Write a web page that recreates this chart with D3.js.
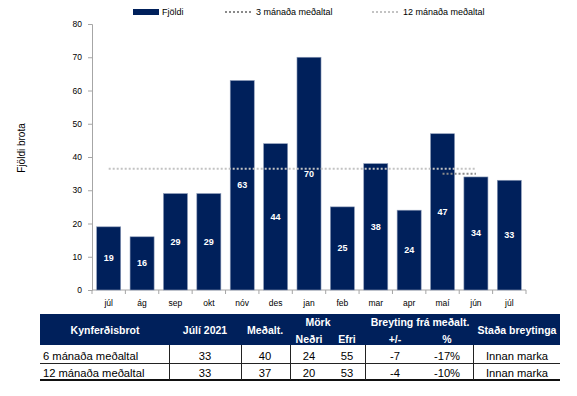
<!DOCTYPE html>
<html><head><meta charset="utf-8">
<script src="https://cdn.jsdelivr.net/npm/d3@7"></script>
<style>
html,body{margin:0;padding:0;background:#fff;}
svg{display:block;font-family:"Liberation Sans",Arial,sans-serif;}
</style></head>
<body><svg id="c" width="577" height="396"></svg>
<script>
const months = ["júl","ág","sep","okt","nóv","des","jan","feb","mar","apr","maí","jún","júl"];
const counts = [19,16,29,29,63,44,70,25,38,24,47,34,33];
const avg12 = [36.5,36.5,36.5,36.5,36.5,36.5,36.5,36.5,36.5,36.5,36.5,36.5,null];
const avg3 = [null,null,null,null,null,null,null,null,null,null,35,35,null];
const yTicks = [0,10,20,30,40,50,60,70,80];
const legendLabels = ["Fjöldi","3 mánaða meðaltal","12 mánaða meðaltal"];
const yTitle = "Fjöldi brota";

const tableRowLabels = ["6 mánaða meðaltal","12 mánaða meðaltal"];
const tableJuly = ["33","33"];
const tableAvg = ["40","37"];
const tableLow = ["24","20"];
const tableHigh = ["55","53"];
const tableDiff = ["-7","-4"];
const tablePct = ["-17%","-10%"];
const tableStatus = ["Innan marka","Innan marka"];

const navy = "#00205b";
const svg = d3.select("#c");
const idx = months.map((m,i)=>i);
const x = d3.scaleBand().domain(idx).range([92,526]).paddingInner(0.28).paddingOuter(0.14);
const y = d3.scaleLinear().domain([0,80]).range([290,24]);
const axisCol = "#a6a6a6";

// y axis
const ya = svg.append("g").attr("transform","translate(92,0)")
  .call(d3.axisLeft(y).tickValues(yTicks).tickSize(4).tickPadding(6));
ya.select(".domain").attr("stroke",axisCol);
ya.selectAll(".tick line").attr("stroke",axisCol);
ya.selectAll("text").attr("font-size",8.5).attr("fill","#000");

// x axis
const xa = svg.append("g").attr("transform","translate(0,290)");
xa.append("line").attr("x1",92).attr("x2",526).attr("stroke",axisCol);
const step = x.step();
xa.selectAll("line.t").data(d3.range(months.length+1)).join("line")
  .attr("x1",d=>92+d*step).attr("x2",d=>92+d*step).attr("y1",0).attr("y2",4).attr("stroke",axisCol);
xa.selectAll("text").data(idx).join("text")
  .attr("x",d=>x(d)+x.bandwidth()/2).attr("y",16).attr("text-anchor","middle")
  .attr("font-size",8.5).text(d=>months[d]);

// bars
svg.append("g").selectAll("rect").data(idx).join("rect")
  .attr("x",d=>x(d)).attr("width",x.bandwidth())
  .attr("y",d=>y(counts[d])).attr("height",d=>y(0)-y(counts[d]))
  .attr("fill",navy).attr("stroke","#8c9bb8").attr("stroke-width",0.6);

// average lines
const line = d3.line().defined(d=>d.v!=null).x(d=>x(d.i)+x.bandwidth()/2).y(d=>y(d.v));
svg.append("path").datum(avg12.map((v,i)=>({i,v}))).attr("d",line)
  .attr("fill","none").attr("stroke","#c3c3c3").attr("stroke-width",2).attr("stroke-dasharray","2,2");
svg.append("path").datum(avg3.map((v,i)=>({i,v}))).attr("d",line)
  .attr("fill","none").attr("stroke","#8a8a8a").attr("stroke-width",2).attr("stroke-dasharray","2,2");

// bar labels
svg.append("g").selectAll("text").data(idx).join("text")
  .attr("x",d=>x(d)+x.bandwidth()/2).attr("y",d=>(y(counts[d])+y(0))/2+3)
  .attr("text-anchor","middle").attr("font-size",9).attr("font-weight","bold").attr("fill","#fff")
  .text(d=>counts[d]);

// y title
svg.append("text").attr("transform","translate(25,148) rotate(-90)").attr("text-anchor","middle")
  .attr("font-size",10).text(yTitle);

// legend
const lg = svg.append("g");
lg.append("rect").attr("x",133).attr("y",9).attr("width",26).attr("height",6).attr("fill",navy);
lg.append("text").attr("x",162).attr("y",15).attr("font-size",9).text(legendLabels[0]);
lg.append("line").attr("x1",225).attr("x2",251).attr("y1",12).attr("y2",12)
  .attr("stroke","#8a8a8a").attr("stroke-width",2).attr("stroke-dasharray","2,2");
lg.append("text").attr("x",256).attr("y",15).attr("font-size",9).text(legendLabels[1]);
lg.append("line").attr("x1",372).attr("x2",399).attr("y1",12).attr("y2",12)
  .attr("stroke","#c3c3c3").attr("stroke-width",2).attr("stroke-dasharray","2,2");
lg.append("text").attr("x",403).attr("y",15).attr("font-size",9).text(legendLabels[2]);

// table
const t = svg.append("g");
t.append("rect").attr("x",40).attr("y",314).attr("width",520).attr("height",31).attr("fill",navy);
const hdr = (txt,cx,cy)=>t.append("text").attr("x",cx).attr("y",cy).attr("text-anchor","middle")
  .attr("font-size",10.5).attr("font-weight","bold").attr("fill","#fff").text(txt);
hdr("Kynferðisbrot",105,334);
hdr("Júlí 2021",205,334);
hdr("Meðalt.",265,334);
hdr("Mörk",318,326);
hdr("Neðri",309,343);
hdr("Efri",347,343);
hdr("Breyting frá meðalt.",420,326);
hdr("+/-",395,343);
hdr("%",447,343);
hdr("Staða breytinga",517,334);

const rowY = [356,373];
const cols = [
  {vals:tableJuly,cx:205},{vals:tableAvg,cx:265},{vals:tableLow,cx:309},{vals:tableHigh,cx:347},
  {vals:tableDiff,cx:395},{vals:tablePct,cx:447},{vals:tableStatus,cx:517}
];
tableRowLabels.forEach((lab,r)=>{
  t.append("text").attr("x",43).attr("y",rowY[r]+4).attr("font-size",11.2).text(lab);
  cols.forEach(c=>t.append("text").attr("x",c.cx).attr("y",rowY[r]+4).attr("text-anchor","middle")
    .attr("font-size",11.2).text(c.vals[r]));
});
t.append("line").attr("x1",40).attr("x2",560).attr("y1",363.5).attr("y2",363.5).attr("stroke","#222").attr("stroke-width",1);
t.append("line").attr("x1",40).attr("x2",560).attr("y1",380).attr("y2",380).attr("stroke","#111").attr("stroke-width",2);
[169,241,290,365,473].forEach(vx=>t.append("line").attr("x1",vx+0.5).attr("x2",vx+0.5).attr("y1",345).attr("y2",380)
  .attr("stroke","#222").attr("stroke-width",1));
</script></body></html>
